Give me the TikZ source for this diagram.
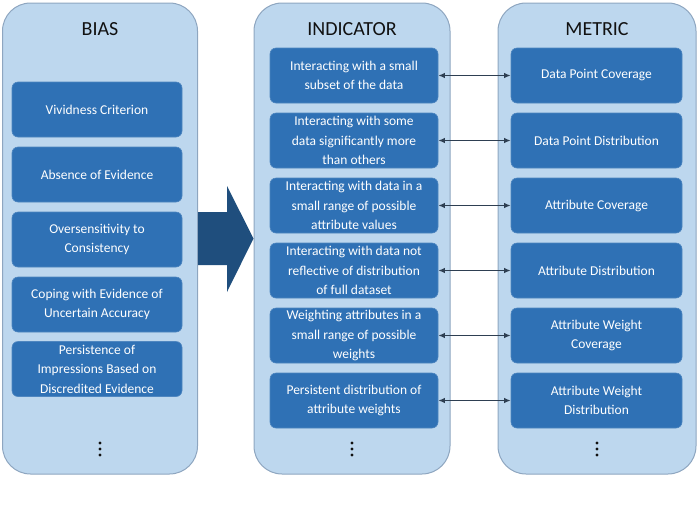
\documentclass[tikz,border=0pt]{standalone}
\usepackage{fontspec}
\setmainfont{Carlito}
\usepackage{tikz}
\usepackage{xcolor}
\usetikzlibrary{positioning, arrows.meta}
\definecolor{cCol}     {HTML}{BDD7EE}
\definecolor{cColEdge} {HTML}{8EA6C0}
\definecolor{cBox}     {HTML}{2F71B5}
\definecolor{cArrow}   {HTML}{1F4E7D}
\definecolor{cLink}    {HTML}{2E3F52}
\definecolor{cHead}    {HTML}{111111}

\tikzset{
  colbox/.style={draw=cColEdge, fill=cCol, line width=1pt, rounded corners=28pt,
                 minimum height=471pt, inner sep=0pt},
  itembox/.style={fill=cBox, draw=cBox!85!white, line width=0.6pt, rounded corners=6pt,
                  minimum height=55pt, inner sep=1pt, align=center, text=white,
                  font=\fontsize{13.5}{19.5}\selectfont},
  headtxt/.style={font=\fontsize{20}{22}\selectfont, text=cHead},
  link/.style={{Latex[length=6.5pt,width=5.5pt]}-{Latex[length=6.5pt,width=5.5pt]},
               draw=cLink, line width=1.3pt},
}

\begin{document}
\begin{tikzpicture}[x=1pt, y=-1pt]
        \useasboundingbox (0,0) rectangle (698,512);
        % three columns
        \node[colbox, minimum width=195pt] (colbias) at (100,238.5) {};
        \node[colbox, minimum width=196pt] (colind)  at (352,238.5) {};
        \node[colbox, minimum width=198pt] (colmet)  at (597,238.5) {};
        \node[headtxt] (hbias) at (100,29) {BIAS};
        \node[headtxt] (hind)  at (352,29) {INDICATOR};
        \node[headtxt] (hmet)  at (597,29) {METRIC};
        % big arrow between BIAS and INDICATOR
        \fill[cArrow] (colbias.east |- 0,212) -- (227,212) -- (227,186) -- (colind.west |- 0,238.5)
          -- (227,292) -- (227,265) -- (colbias.east |- 0,265) -- cycle;
        % bias items
        \foreach \n/\y/\t in {1/109.5/{Vividness Criterion}, 2/174.5/{Absence of Evidence},
                              3/239.5/{Oversensitivity to\\Consistency},
                              4/304.5/{Coping with Evidence of\\Uncertain Accuracy},
                              5/369/{Persistence of\\Impressions Based on\\Discredited Evidence}}
          \node[itembox, minimum width=170pt] (b\n) at (97,\y) {\t};
        % indicator items
        \foreach \n/\y/\t in {1/75.5/{Interacting with a small\\subset of the data},
                              2/140.5/{Interacting with some\\data significantly more\\than others},
                              3/205.5/{Interacting with data in a\\small range of possible\\attribute values},
                              4/270.5/{Interacting with data not\\reflective of distribution\\of full dataset},
                              5/335.5/{Weighting attributes in a\\small range of possible\\weights},
                              6/400.5/{Persistent distribution of\\attribute weights}}
          \node[itembox, minimum width=168pt] (i\n) at (354,\y) {\t};
        % metric items
        \foreach \n/\y/\t in {1/75.5/{Data Point Coverage}, 2/140.5/{Data Point Distribution},
                              3/205.5/{Attribute Coverage}, 4/270.5/{Attribute Distribution},
                              5/335.5/{Attribute Weight\\Coverage}, 6/400.5/{Attribute Weight\\Distribution}}
          \node[itembox, minimum width=171pt] (m\n) at (596.5,\y) {\t};
        \foreach \n in {1,...,6}
          \draw[link] (i\n.east) -- (m\n.west);
        % more to come (vertical dots)
        \foreach \c in {colbias, colind, colmet}
          \foreach \d in {443,449,455}
            \fill[cHead] (\c.center |- 0,\d) circle (1.6pt);
      \end{tikzpicture}
\end{document}
